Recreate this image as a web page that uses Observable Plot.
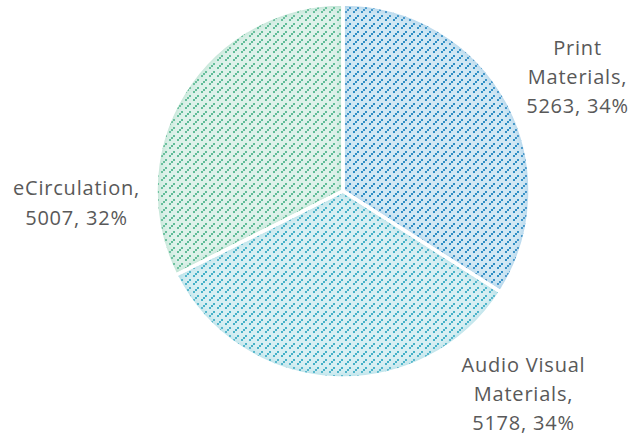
<!DOCTYPE html>
<html>
<head>
<meta charset="utf-8">
<script src="https://cdn.jsdelivr.net/npm/d3@7"></script>
<script src="https://cdn.jsdelivr.net/npm/@observablehq/plot@0.6"></script>
<style>
  html, body { margin: 0; padding: 0; background: #fff; }
</style>
</head>
<body>
<div id="chart"></div>
<script>
// ---- data ----
const categories = ["Print Materials", "Audio Visual Materials", "eCirculation"];
const labelNames = ["Print\nMaterials", "Audio Visual\nMaterials", "eCirculation"];
const values = [5263, 5178, 5007];
const percents = ["34%", "34%", "32%"];

// ---- styles / layout ----
const bgColors = ["#d2e8f4", "#d8eff3", "#def2ea"];
const dashColors = ["#2f8ec4", "#45b1c8", "#60bc98"];
const edgeColors = ["#7fbbe0", "#86cfdc", "#95d3b9"];
const W = 634, H = 437;
const cx = 343, cy = 191, R = 187;
const labelPos = [[577, 74], [523, 391], [76, 200]];

const rows = categories.map((c, i) => ({
  category: c,
  value: values[i],
  label: `${labelNames[i]},\n${values[i]}, ${percents[i]}`,
  lx: labelPos[i][0],
  ly: labelPos[i][1]
}));

function pieMark(index, scales, vals, dimensions, context) {
  const g = d3.create("svg:g");
  const defs = g.append("defs");
  const x0 = scales.x(cx), y0 = scales.y(cy);
  const r = Math.abs(scales.x(cx + R) - scales.x(cx));
  const cell = 2, n = 4; // tile 8x8 px
  rows.forEach((d, i) => {
    const p = defs.append("pattern")
      .attr("id", "pat" + i)
      .attr("patternUnits", "userSpaceOnUse")
      .attr("width", n * cell).attr("height", n * cell);
    p.append("rect").attr("width", n * cell).attr("height", n * cell).attr("fill", bgColors[i]);
    for (let rr = 0; rr < n; rr++) {
      const c = n - 1 - rr;
      if (rr === n - 1) continue; // gap in the dash
      p.append("rect").attr("x", c * cell).attr("y", rr * cell)
        .attr("width", cell).attr("height", cell).attr("fill", dashColors[i]);
    }
    const f = defs.append("filter").attr("id", "glow" + i)
      .attr("x", "-10%").attr("y", "-10%").attr("width", "120%").attr("height", "120%");
    f.append("feGaussianBlur").attr("in", "SourceAlpha").attr("stdDeviation", 5).attr("result", "b");
    f.append("feComposite").attr("in", "SourceAlpha").attr("in2", "b").attr("operator", "out").attr("result", "edge");
    f.append("feFlood").attr("flood-color", edgeColors[i]).attr("flood-opacity", 0.95).attr("result", "fl");
    f.append("feComposite").attr("in", "fl").attr("in2", "edge").attr("operator", "in").attr("result", "shadow");
    const m = f.append("feMerge");
    m.append("feMergeNode").attr("in", "SourceGraphic");
    m.append("feMergeNode").attr("in", "shadow");
  });
  const arcs = d3.pie().sort(null).value(d => d.value)(rows);
  const arc = d3.arc().innerRadius(0).outerRadius(r);
  const slices = g.append("g").attr("transform", `translate(${x0},${y0})`);
  slices.selectAll("path.fill").data(arcs).join("path")
    .attr("class", "fill")
    .attr("d", arc)
    .attr("fill", (d, i) => `url(#pat${i})`)
    .attr("filter", (d, i) => `url(#glow${i})`);
  slices.selectAll("path.sep").data(arcs).join("path")
    .attr("class", "sep")
    .attr("d", arc)
    .attr("fill", "none")
    .attr("stroke", "#fff")
    .attr("stroke-width", 3.5)
    .attr("stroke-linejoin", "miter");
  return g.node();
}

const chart = Plot.plot({
  width: W,
  height: H,
  margin: 0,
  x: { type: "identity", axis: null },
  y: { type: "identity", axis: null },
  style: { fontFamily: "'Open Sans', sans-serif", letterSpacing: "0.8px", background: "#fff" },
  marks: [
    pieMark,
    Plot.text(rows, {
      x: "lx",
      y: "ly",
      text: "label",
      fill: "#595959",
      fontSize: 20,
      lineHeight: 1.47,
      textAnchor: "middle",
      lineAnchor: "middle"
    })
  ]
});
document.getElementById("chart").appendChild(chart);
</script>
</body>
</html>
